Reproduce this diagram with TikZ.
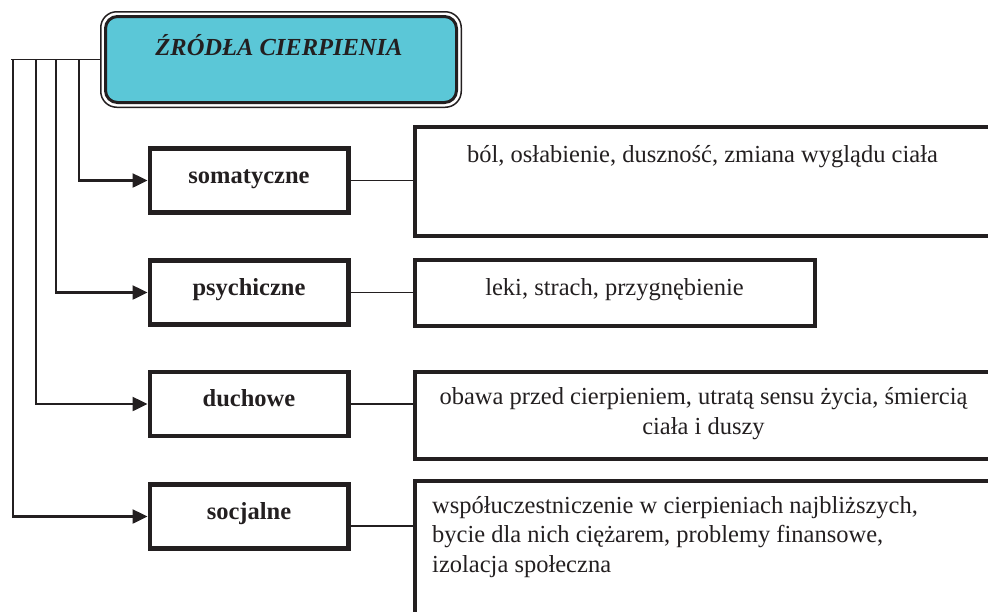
\documentclass[tikz,border=0pt]{standalone}
\usepackage{fontspec}
\setmainfont{Liberation Serif}
\usetikzlibrary{arrows.meta}
\definecolor{inkgray}{HTML}{231F20}
\definecolor{titlecyan}{HTML}{5BC7D7}

\begin{document}
\begin{tikzpicture}[x=1pt,y=-1pt,color=inkgray,
  font=\fontsize{24.5}{29.5}\selectfont,
  titlebox/.style={draw, fill=titlecyan, line width=3pt, rounded corners=12pt,
    minimum width=351pt, minimum height=86pt, inner sep=0pt},
  srcbox/.style={draw, line width=4.5pt, minimum width=198.5pt, minimum height=64pt,
    inner sep=0pt, font=\fontsize{24.5}{29.5}\selectfont\bfseries,
    text height=12pt, text depth=7pt},
  detailbox/.style={draw, line width=4.5pt, inner sep=0pt},
  feed/.style={line width=2.5pt, -{Triangle[length=15pt,width=14pt]}},
  link/.style={line width=1.5pt}]
  \useasboundingbox (0,0) rectangle (988,611);
  \clip (0,0) rectangle (988,611);

  % title
  \node[titlebox] (title) at (281,59.5) {};
  \draw[line width=1.5pt, rounded corners=16pt]
    ([shift={(-3.25,-3.25)}]title.north west) rectangle ([shift={(3.25,3.25)}]title.south east);
  \node[anchor=base, font=\fontsize{24.5}{29.5}\selectfont\bfseries\itshape]
    (titleTxt) at (279,55) {ŹRÓDŁA CIERPIENIA};

  % sources
  \node[srcbox] (soma)  at (249,180.5) {somatyczne};
  \node[srcbox] (psych) at (249,292.5) {psychiczne};
  \node[srcbox] (duch)  at (249,404)   {duchowe};
  \node[srcbox] (socj)  at (249,516.5) {socjalne};

  % bus
  \coordinate (barL) at (11,59.5);
  \draw[link] (barL) -- ([xshift=-4pt]title.west);
  \foreach \x/\dst in {79/soma,56/psych,36/duch,13/socj}{
    \coordinate (tap-\dst) at (\x,59.5);
    \draw[feed] (tap-\dst) |- (\dst.west);
  }

  % details
  \node[detailbox, minimum width=585pt, minimum height=109pt] (somaBox)  at (707.5,181.5) {};
  \node[detailbox, minimum width=400pt, minimum height=66pt]  (psychBox) at (615,293)     {};
  \node[detailbox, minimum width=585pt, minimum height=87pt]  (duchBox)  at (707.5,415.5) {};
  \node[detailbox, minimum width=585pt, minimum height=149pt] (socjBox)  at (707.5,555.5) {};

  \draw[link] (soma.east) -- (soma.east -| somaBox.west);
  \draw[link] (psych.east) -- (psych.east -| psychBox.west);
  \draw[link] (duch.east) -- (duch.east -| duchBox.west);
  \draw[link] ([yshift=-9.5pt]socj.east) -- ([yshift=-9.5pt]socj.east -| socjBox.west);

  \node[anchor=base] (somaTxt)  at (702.5,162) {ból, osłabienie, duszność, zmiana wyglądu ciała};
  \node[anchor=base] (psychTxt) at (614.5,295) {leki, strach, przygnębienie};
  \node[anchor=base, align=center] (duchTxt) at (703.5,434)
    {obawa przed cierpieniem, utratą sensu życia, śmiercią\\ciała i duszy};
  \node[anchor=base west, align=left, inner sep=0pt] (socjTxt) at (432,572)
    {współuczestniczenie w cierpieniach najbliższych,\\bycie dla nich ciężarem, problemy finansowe,\\izolacja społeczna};
\end{tikzpicture}
\end{document}
